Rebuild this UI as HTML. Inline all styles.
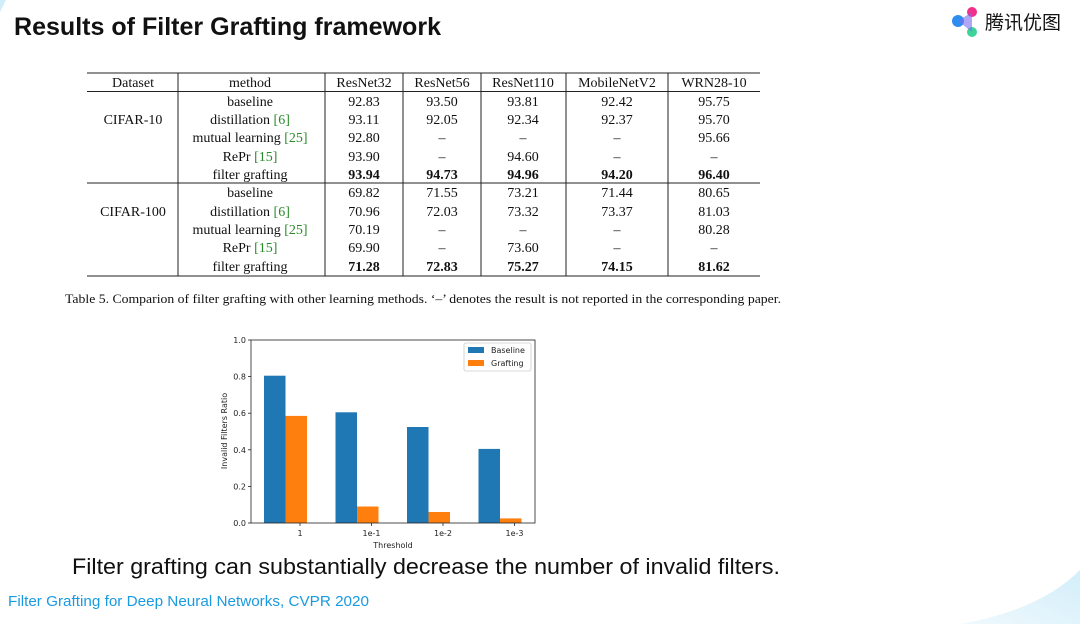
<!DOCTYPE html>
<html><head><meta charset="utf-8"><style>
body{margin:0;width:1080px;height:624px;background:#fff;overflow:hidden}
svg{display:block}
.s{font-family:"Liberation Serif",serif;font-size:14px;fill:#111}
.d{font-family:"DejaVu Sans",sans-serif;font-size:8px;fill:#222}
</style></head><body>
<svg width="1080" height="624" viewBox="0 0 1080 624">
<defs><linearGradient id="g" x1="0" y1="1" x2="1" y2="0"><stop offset="0" stop-color="#eaf7fd"/><stop offset="1" stop-color="#bfe6f7"/></linearGradient></defs>
<path d="M960 624 Q1040 610 1080 570 L1080 624 Z" fill="url(#g)" opacity="0.7"/>
<path d="M0 0 L6 0 L0 12 Z" fill="#cfeefa"/>
<text x="14" y="35" font-family="Liberation Sans, sans-serif" font-size="25" font-weight="bold" fill="#111" textLength="427" lengthAdjust="spacingAndGlyphs">Results of Filter Grafting framework</text>
<circle cx="958" cy="21" r="6" fill="#2e8ef0"/><circle cx="972" cy="12" r="5" fill="#f0308a"/><circle cx="972" cy="32" r="5" fill="#3ed39a"/>
<path d="M958 21 L972 12 L972 32 Z" fill="#7a6cf0" opacity="0.6"/>
<text x="985" y="29" font-family="Noto Sans CJK SC, sans-serif" font-size="19" fill="#111">腾讯优图</text>
<g stroke="#222" stroke-width="1">
<line x1="87" y1="73" x2="760" y2="73"/><line x1="87" y1="91.5" x2="760" y2="91.5"/>
<line x1="87" y1="183" x2="760" y2="183"/><line x1="87" y1="276" x2="760" y2="276"/>
<line x1="178" y1="73" x2="178" y2="276"/><line x1="325" y1="73" x2="325" y2="276"/>
<line x1="403" y1="73" x2="403" y2="276"/><line x1="481" y1="73" x2="481" y2="276"/>
<line x1="566" y1="73" x2="566" y2="276"/><line x1="668" y1="73" x2="668" y2="276"/>
</g>
<g class="s" text-anchor="middle">
<text x="133" y="87">Dataset</text><text x="250" y="87">method</text><text x="364" y="87">ResNet32</text><text x="442" y="87">ResNet56</text><text x="523" y="87">ResNet110</text><text x="617" y="87">MobileNetV2</text><text x="714" y="87">WRN28-10</text>
<text x="133" y="124">CIFAR-10</text><text x="133" y="216">CIFAR-100</text>
<text x="250" y="106">baseline</text><text x="250" y="124">distillation <tspan fill="#2a8a2a">[6]</tspan></text><text x="250" y="142">mutual learning <tspan fill="#2a8a2a">[25]</tspan></text><text x="250" y="161">RePr <tspan fill="#2a8a2a">[15]</tspan></text><text x="250" y="179">filter grafting</text>
<text x="250" y="197">baseline</text><text x="250" y="216">distillation <tspan fill="#2a8a2a">[6]</tspan></text><text x="250" y="234">mutual learning <tspan fill="#2a8a2a">[25]</tspan></text><text x="250" y="252">RePr <tspan fill="#2a8a2a">[15]</tspan></text><text x="250" y="271">filter grafting</text>
<text x="364" y="106">92.83</text><text x="442" y="106">93.50</text><text x="523" y="106">93.81</text><text x="617" y="106">92.42</text><text x="714" y="106">95.75</text>
<text x="364" y="124">93.11</text><text x="442" y="124">92.05</text><text x="523" y="124">92.34</text><text x="617" y="124">92.37</text><text x="714" y="124">95.70</text>
<text x="364" y="142">92.80</text><text x="442" y="142">–</text><text x="523" y="142">–</text><text x="617" y="142">–</text><text x="714" y="142">95.66</text>
<text x="364" y="161">93.90</text><text x="442" y="161">–</text><text x="523" y="161">94.60</text><text x="617" y="161">–</text><text x="714" y="161">–</text>
<g font-weight="bold"><text x="364" y="179">93.94</text><text x="442" y="179">94.73</text><text x="523" y="179">94.96</text><text x="617" y="179">94.20</text><text x="714" y="179">96.40</text></g>
<text x="364" y="197">69.82</text><text x="442" y="197">71.55</text><text x="523" y="197">73.21</text><text x="617" y="197">71.44</text><text x="714" y="197">80.65</text>
<text x="364" y="216">70.96</text><text x="442" y="216">72.03</text><text x="523" y="216">73.32</text><text x="617" y="216">73.37</text><text x="714" y="216">81.03</text>
<text x="364" y="234">70.19</text><text x="442" y="234">–</text><text x="523" y="234">–</text><text x="617" y="234">–</text><text x="714" y="234">80.28</text>
<text x="364" y="252">69.90</text><text x="442" y="252">–</text><text x="523" y="252">73.60</text><text x="617" y="252">–</text><text x="714" y="252">–</text>
<g font-weight="bold"><text x="364" y="271">71.28</text><text x="442" y="271">72.83</text><text x="523" y="271">75.27</text><text x="617" y="271">74.15</text><text x="714" y="271">81.62</text></g>
</g>
<text x="65" y="303" font-family="Liberation Serif,serif" font-size="12.2" fill="#111" textLength="716" lengthAdjust="spacingAndGlyphs">Table 5. Comparion of filter grafting with other learning methods. ‘–’ denotes the result is not reported in the corresponding paper.</text>
<g fill="#1f77b4">
<rect x="264" y="375.7" width="21.5" height="147.3"/><rect x="335.5" y="412.3" width="21.5" height="110.7"/><rect x="407" y="427" width="21.5" height="96"/><rect x="478.5" y="448.9" width="21.5" height="74.1"/>
</g>
<g fill="#ff7f0e">
<rect x="285.5" y="415.9" width="21.5" height="107.1"/><rect x="357" y="506.5" width="21.5" height="16.5"/><rect x="428.5" y="512" width="21.5" height="11"/><rect x="500" y="518.4" width="21.5" height="4.6"/>
</g>
<rect x="251" y="340" width="284" height="183" fill="none" stroke="#222" stroke-width="0.8"/>
<g stroke="#222" stroke-width="0.8">
<line x1="248" y1="340" x2="251" y2="340"/><line x1="248" y1="376.6" x2="251" y2="376.6"/><line x1="248" y1="413.2" x2="251" y2="413.2"/><line x1="248" y1="449.8" x2="251" y2="449.8"/><line x1="248" y1="486.4" x2="251" y2="486.4"/><line x1="248" y1="523" x2="251" y2="523"/>
<line x1="300" y1="523" x2="300" y2="526"/><line x1="371.5" y1="523" x2="371.5" y2="526"/><line x1="443" y1="523" x2="443" y2="526"/><line x1="514.5" y1="523" x2="514.5" y2="526"/>
</g>
<g class="d" text-anchor="end">
<text x="246" y="343">1.0</text><text x="246" y="379.6">0.8</text><text x="246" y="416.2">0.6</text><text x="246" y="452.8">0.4</text><text x="246" y="489.4">0.2</text><text x="246" y="526">0.0</text>
</g>
<g class="d" text-anchor="middle">
<text x="300" y="536">1</text><text x="371.5" y="536">1e-1</text><text x="443" y="536">1e-2</text><text x="514.5" y="536">1e-3</text>
<text x="393" y="548">Threshold</text>
<text transform="translate(227,431) rotate(-90)">Invalid Filters Ratio</text>
</g>
<rect x="464" y="343" width="67" height="28" fill="#fff" stroke="#ccc" stroke-width="0.8" rx="2"/>
<rect x="468" y="347" width="16" height="6" fill="#1f77b4"/><rect x="468" y="360" width="16" height="6" fill="#ff7f0e"/>
<text class="d" x="491" y="353">Baseline</text><text class="d" x="491" y="366">Grafting</text>
<text x="72" y="574" font-family="Liberation Sans, sans-serif" font-size="22" fill="#111" textLength="708" lengthAdjust="spacingAndGlyphs">Filter grafting can substantially decrease the number of invalid filters.</text>
<text x="8" y="606" font-family="Liberation Sans, sans-serif" font-size="15" fill="#1a9ae0" textLength="361" lengthAdjust="spacingAndGlyphs">Filter Grafting for Deep Neural Networks, CVPR 2020</text>
</svg>
</body></html>
